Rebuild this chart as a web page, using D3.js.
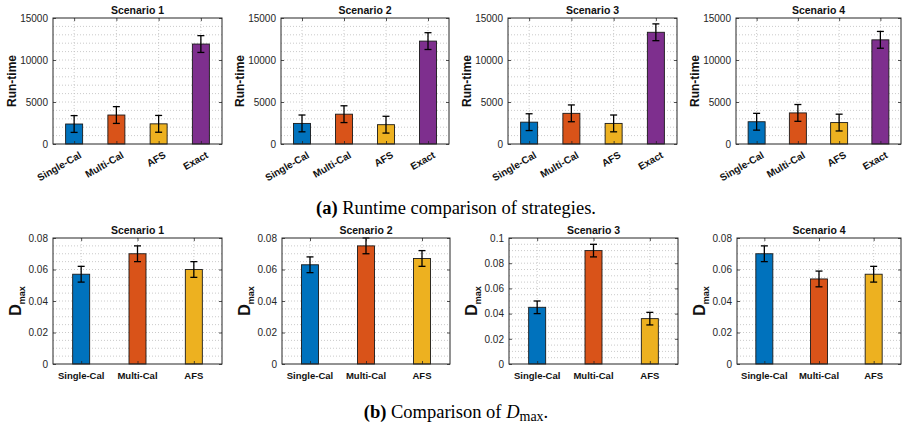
<!DOCTYPE html>
<html><head><meta charset="utf-8">
<script src="https://cdn.jsdelivr.net/npm/d3@7"></script>
<style>body{margin:0;background:#fff} svg{display:block}</style>
</head><body>
<svg id="c" width="903" height="428"></svg>
<script>
// ---- data ----
const scenarios = ["Scenario 1", "Scenario 2", "Scenario 3", "Scenario 4"];
const runtimeCategories = ["Single-Cal", "Multi-Cal", "AFS", "Exact"];
const dmaxCategories = ["Single-Cal", "Multi-Cal", "AFS"];
const runtimeS1 = [2380, 3450, 2400, 11900];
const runtimeS2 = [2450, 3550, 2300, 12250];
const runtimeS3 = [2600, 3650, 2450, 13300];
const runtimeS4 = [2650, 3700, 2550, 12400];
const runtimeErr = [1000, 1000, 1000, 1000];
const dmaxS1 = [0.057, 0.070, 0.060];
const dmaxS2 = [0.063, 0.075, 0.067];
const dmaxS3 = [0.045, 0.090, 0.036];
const dmaxS4 = [0.070, 0.054, 0.057];
const dmaxErr = [0.005, 0.005, 0.005];
const runtimeTicks = [0, 5000, 10000, 15000];
const dmaxTicks = [0, 0.02, 0.04, 0.06, 0.08];
const dmaxTicksS3 = [0, 0.02, 0.04, 0.06, 0.08, 0.1];
const captionA = ["(a)", " Runtime comparison of strategies."];
const captionB = ["(b)", " Comparison of "];

// ---- styles ----
const colors = ["#0072BD", "#D95319", "#EDB120", "#7E2F8E"];
const axisColor = "#262626";
const sans = "'Liberation Sans', Arial, Helvetica, sans-serif";
const serif = "'Liberation Serif', 'Times New Roman', serif";

const svg = d3.select("#c");

const topX = [[53, 222], [281, 449], [508, 677], [736, 901]];
const botX = [[53, 222], [282, 450], [509, 678], [737, 901]];
const topY = [18, 144];
const botY = [238, 364];

function drawPanel(o) {
  const g = svg.append("g");
  const n = o.cats.length;
  const x = d3.scaleLinear().domain([0.5, n + 0.5]).range([o.x0, o.x1]);
  const y = d3.scaleLinear().domain([0, o.ymax]).range([o.y1, o.y0]);
  const bw = 17;

  // minor + major horizontal grid (dotted)
  const gridVals = d3.range(1, Math.round(o.ymax / o.minor)).map(k => k * o.minor);
  g.selectAll(".hg").data(gridVals).join("line")
    .attr("x1", o.x0).attr("x2", o.x1)
    .attr("y1", d => y(d)).attr("y2", d => y(d))
    .attr("stroke", "#bdbdbd").attr("stroke-width", 0.8)
    .attr("stroke-dasharray", "1,2");
  // vertical grid at categories
  g.selectAll(".vg").data(d3.range(1, n + 1)).join("line")
    .attr("x1", d => x(d)).attr("x2", d => x(d))
    .attr("y1", o.y0).attr("y2", o.y1)
    .attr("stroke", "#bdbdbd").attr("stroke-width", 0.8)
    .attr("stroke-dasharray", "1,2");

  // bars
  g.selectAll(".bar").data(o.vals).join("rect")
    .attr("x", (d, i) => x(i + 1) - bw / 2)
    .attr("width", bw)
    .attr("y", d => y(d))
    .attr("height", d => y(0) - y(d))
    .attr("fill", (d, i) => colors[i])
    .attr("stroke", "#1a1a1a").attr("stroke-width", 0.9);

  // error bars
  const eb = g.selectAll(".eb").data(o.vals).join("g");
  eb.append("line")
    .attr("x1", (d, i) => x(i + 1)).attr("x2", (d, i) => x(i + 1))
    .attr("y1", (d, i) => y(d + o.errs[i])).attr("y2", (d, i) => y(d - o.errs[i]))
    .attr("stroke", "#000").attr("stroke-width", 1.3);
  [1, -1].forEach(s => {
    eb.append("line")
      .attr("x1", (d, i) => x(i + 1) - 3.5).attr("x2", (d, i) => x(i + 1) + 3.5)
      .attr("y1", (d, i) => y(d + s * o.errs[i])).attr("y2", (d, i) => y(d + s * o.errs[i]))
      .attr("stroke", "#000").attr("stroke-width", 1.3);
  });

  // axes
  const fmt = d => String(+d.toFixed(3));
  const left = g.append("g").attr("transform", `translate(${o.x0},0)`)
    .call(d3.axisLeft(y).tickValues(o.ticks).tickSizeInner(-3).tickSizeOuter(0).tickPadding(5).tickFormat(fmt));
  const right = g.append("g").attr("transform", `translate(${o.x1},0)`)
    .call(d3.axisRight(y).tickValues(o.ticks).tickSizeInner(-3).tickSizeOuter(0).tickFormat(""));
  const bottom = g.append("g").attr("transform", `translate(0,${o.y1})`)
    .call(d3.axisBottom(x).tickValues(d3.range(1, n + 1)).tickSizeInner(-3).tickSizeOuter(0).tickFormat(""));
  const top = g.append("g").attr("transform", `translate(0,${o.y0})`)
    .call(d3.axisTop(x).tickValues(d3.range(1, n + 1)).tickSizeInner(-3).tickSizeOuter(0).tickFormat(""));
  [left, right, bottom, top].forEach(a => {
    a.select(".domain").remove();
    a.selectAll("line").attr("stroke", axisColor).attr("stroke-width", 0.8);
    a.selectAll("text").attr("fill", axisColor).style("font-family", sans).style("font-size", "10px");
  });
  g.append("rect").attr("x", o.x0).attr("y", o.y0)
    .attr("width", o.x1 - o.x0).attr("height", o.y1 - o.y0)
    .attr("fill", "none").attr("stroke", axisColor).attr("stroke-width", 1);

  // category labels
  const lab = g.selectAll(".cl").data(o.cats).join("text")
    .attr("fill", "#111").style("font-family", sans).style("font-weight", "bold")
    .text(d => d);
  if (o.rotate) {
    lab.attr("text-anchor", "end").style("font-size", "10px")
      .attr("transform", (d, i) => `translate(${x(i + 1) + 8},${o.y1 + 13}) rotate(-30)`);
  } else {
    lab.attr("text-anchor", "middle").style("font-size", "9.5px")
      .attr("x", (d, i) => x(i + 1)).attr("y", o.y1 + 15);
  }

  // title
  g.append("text").attr("x", (o.x0 + o.x1) / 2).attr("y", o.y0 - 4)
    .attr("text-anchor", "middle").attr("fill", "#111")
    .style("font-family", sans).style("font-weight", "bold").style("font-size", "10.5px")
    .text(o.title);

  // y label
  const cy = (o.y0 + o.y1) / 2;
  if (o.ylabel === "runtime") {
    g.append("text")
      .attr("transform", `translate(${o.x0 - 37.5},${cy}) rotate(-90)`)
      .attr("text-anchor", "middle").attr("fill", "#111")
      .style("font-family", sans).style("font-weight", "bold").style("font-size", "12px")
      .text("Run-time");
  } else {
    const t = g.append("text")
      .attr("transform", `translate(${o.x0 - 32},${cy}) rotate(-90)`)
      .attr("text-anchor", "middle").attr("fill", "#111")
      .style("font-family", sans).style("font-weight", "bold");
    t.append("tspan").style("font-size", "16px").text("D");
    t.append("tspan").style("font-size", "9px").attr("dy", 4).text("max");
  }
}

const runtimeSets = [runtimeS1, runtimeS2, runtimeS3, runtimeS4];
const dmaxSets = [dmaxS1, dmaxS2, dmaxS3, dmaxS4];

scenarios.forEach((s, i) => {
  drawPanel({
    x0: topX[i][0], x1: topX[i][1], y0: topY[0], y1: topY[1],
    cats: runtimeCategories, vals: runtimeSets[i], errs: runtimeErr,
    ticks: runtimeTicks, ymax: 15000, minor: 1000, title: s, ylabel: "runtime", rotate: true
  });
  const t = i === 2 ? dmaxTicksS3 : dmaxTicks;
  drawPanel({
    x0: botX[i][0], x1: botX[i][1], y0: botY[0], y1: botY[1],
    cats: dmaxCategories, vals: dmaxSets[i], errs: dmaxErr,
    ticks: t, ymax: t[t.length - 1], minor: 0.005, title: s, ylabel: "dmax", rotate: false
  });
});

// captions
const ca = svg.append("text").attr("x", 456).attr("y", 214).attr("text-anchor", "middle")
  .attr("fill", "#000").style("font-family", serif).style("font-size", "18.5px");
ca.append("tspan").style("font-weight", "bold").text(captionA[0]);
ca.append("tspan").text(captionA[1]);

const cb = svg.append("text").attr("x", 456).attr("y", 418).attr("text-anchor", "middle")
  .attr("fill", "#000").style("font-family", serif).style("font-size", "18.5px");
cb.append("tspan").style("font-weight", "bold").text(captionB[0]);
cb.append("tspan").text(captionB[1]);
cb.append("tspan").style("font-style", "italic").text("D");
cb.append("tspan").attr("dy", 3).style("font-size", "14px").text("max");
cb.append("tspan").attr("dy", -3).text(".");
</script>
</body></html>
